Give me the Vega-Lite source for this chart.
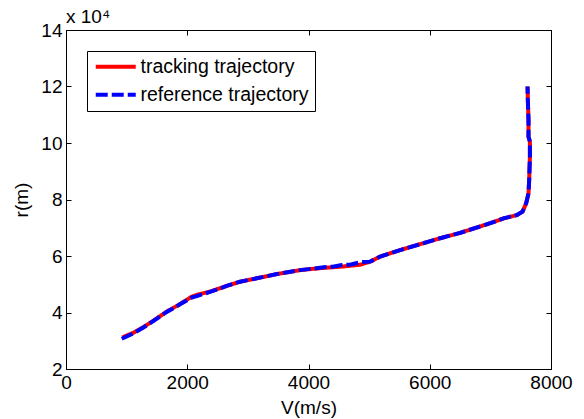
{
  "$schema": "https://vega.github.io/schema/vega-lite/v6.json",
  "autosize": {"type": "none"},
  "padding": {"left": 66, "top": 30, "right": 33, "bottom": 50},
  "width": 485,
  "height": 339,
  "background": "white",
  "config": {
    "font": "Liberation Sans",
    "view": {"stroke": "black", "strokeWidth": 1},
    "axis": {"grid": false, "domainColor": "black", "tickColor": "black", "labelColor": "black", "titleColor": "black", "labelFontSize": 19, "titleFontSize": 19, "titleFontWeight": "normal", "labelFont": "Liberation Sans", "titleFont": "Liberation Sans", "tickSize": -5, "labelPadding": 9, "labelFlush": false, "format": "d"}
  },
  "data": {"values": [
    {"i": 1, "V": 930, "r": 31200, "series": "tracking trajectory"},
    {"i": 2, "V": 1100, "r": 32700, "series": "tracking trajectory"},
    {"i": 3, "V": 1276, "r": 34800, "series": "tracking trajectory"},
    {"i": 4, "V": 1441, "r": 37100, "series": "tracking trajectory"},
    {"i": 5, "V": 1661, "r": 40300, "series": "tracking trajectory"},
    {"i": 6, "V": 1881, "r": 43000, "series": "tracking trajectory"},
    {"i": 7, "V": 2074, "r": 45600, "series": "tracking trajectory"},
    {"i": 8, "V": 2183, "r": 46400, "series": "tracking trajectory"},
    {"i": 9, "V": 2376, "r": 47400, "series": "tracking trajectory"},
    {"i": 10, "V": 2651, "r": 49400, "series": "tracking trajectory"},
    {"i": 11, "V": 2871, "r": 50900, "series": "tracking trajectory"},
    {"i": 12, "V": 3147, "r": 52100, "series": "tracking trajectory"},
    {"i": 13, "V": 3477, "r": 53600, "series": "tracking trajectory"},
    {"i": 14, "V": 3861, "r": 55000, "series": "tracking trajectory"},
    {"i": 15, "V": 4191, "r": 55700, "series": "tracking trajectory"},
    {"i": 16, "V": 4521, "r": 56200, "series": "tracking trajectory"},
    {"i": 17, "V": 4851, "r": 56900, "series": "tracking trajectory"},
    {"i": 18, "V": 5017, "r": 58000, "series": "tracking trajectory"},
    {"i": 19, "V": 5182, "r": 59800, "series": "tracking trajectory"},
    {"i": 20, "V": 5512, "r": 62100, "series": "tracking trajectory"},
    {"i": 21, "V": 5842, "r": 64200, "series": "tracking trajectory"},
    {"i": 22, "V": 6172, "r": 66300, "series": "tracking trajectory"},
    {"i": 23, "V": 6502, "r": 68200, "series": "tracking trajectory"},
    {"i": 24, "V": 6997, "r": 71600, "series": "tracking trajectory"},
    {"i": 25, "V": 7217, "r": 73300, "series": "tracking trajectory"},
    {"i": 26, "V": 7437, "r": 74500, "series": "tracking trajectory"},
    {"i": 27, "V": 7530, "r": 75700, "series": "tracking trajectory"},
    {"i": 28, "V": 7591, "r": 78700, "series": "tracking trajectory"},
    {"i": 29, "V": 7629, "r": 82200, "series": "tracking trajectory"},
    {"i": 30, "V": 7640, "r": 86900, "series": "tracking trajectory"},
    {"i": 31, "V": 7652, "r": 95200, "series": "tracking trajectory"},
    {"i": 32, "V": 7652, "r": 100500, "series": "tracking trajectory"},
    {"i": 33, "V": 7629, "r": 102200, "series": "tracking trajectory"},
    {"i": 34, "V": 7629, "r": 108100, "series": "tracking trajectory"},
    {"i": 35, "V": 7618, "r": 115200, "series": "tracking trajectory"},
    {"i": 36, "V": 7613, "r": 120000, "series": "tracking trajectory"},
    {"i": 1, "V": 920, "r": 30700, "series": "reference trajectory"},
    {"i": 2, "V": 1100, "r": 32500, "series": "reference trajectory"},
    {"i": 3, "V": 1276, "r": 34700, "series": "reference trajectory"},
    {"i": 4, "V": 1441, "r": 37000, "series": "reference trajectory"},
    {"i": 5, "V": 1661, "r": 40200, "series": "reference trajectory"},
    {"i": 6, "V": 1881, "r": 42900, "series": "reference trajectory"},
    {"i": 7, "V": 2074, "r": 45300, "series": "reference trajectory"},
    {"i": 8, "V": 2183, "r": 46000, "series": "reference trajectory"},
    {"i": 9, "V": 2376, "r": 47300, "series": "reference trajectory"},
    {"i": 10, "V": 2651, "r": 49400, "series": "reference trajectory"},
    {"i": 11, "V": 2871, "r": 50900, "series": "reference trajectory"},
    {"i": 12, "V": 3147, "r": 52100, "series": "reference trajectory"},
    {"i": 13, "V": 3477, "r": 53600, "series": "reference trajectory"},
    {"i": 14, "V": 3861, "r": 55000, "series": "reference trajectory"},
    {"i": 15, "V": 4100, "r": 55600, "series": "reference trajectory"},
    {"i": 16, "V": 4250, "r": 56000, "series": "reference trajectory"},
    {"i": 17, "V": 4400, "r": 56200, "series": "reference trajectory"},
    {"i": 18, "V": 4550, "r": 56800, "series": "reference trajectory"},
    {"i": 19, "V": 4700, "r": 57000, "series": "reference trajectory"},
    {"i": 20, "V": 4851, "r": 57800, "series": "reference trajectory"},
    {"i": 21, "V": 5017, "r": 58000, "series": "reference trajectory"},
    {"i": 22, "V": 5182, "r": 59800, "series": "reference trajectory"},
    {"i": 23, "V": 5512, "r": 62100, "series": "reference trajectory"},
    {"i": 24, "V": 5842, "r": 64200, "series": "reference trajectory"},
    {"i": 25, "V": 6172, "r": 66300, "series": "reference trajectory"},
    {"i": 26, "V": 6502, "r": 68200, "series": "reference trajectory"},
    {"i": 27, "V": 6997, "r": 71600, "series": "reference trajectory"},
    {"i": 28, "V": 7217, "r": 73300, "series": "reference trajectory"},
    {"i": 29, "V": 7437, "r": 74500, "series": "reference trajectory"},
    {"i": 30, "V": 7530, "r": 75700, "series": "reference trajectory"},
    {"i": 31, "V": 7591, "r": 78700, "series": "reference trajectory"},
    {"i": 32, "V": 7629, "r": 82200, "series": "reference trajectory"},
    {"i": 33, "V": 7640, "r": 86900, "series": "reference trajectory"},
    {"i": 34, "V": 7652, "r": 95200, "series": "reference trajectory"},
    {"i": 35, "V": 7652, "r": 100500, "series": "reference trajectory"},
    {"i": 36, "V": 7629, "r": 102200, "series": "reference trajectory"},
    {"i": 37, "V": 7629, "r": 108100, "series": "reference trajectory"},
    {"i": 38, "V": 7618, "r": 115200, "series": "reference trajectory"},
    {"i": 39, "V": 7613, "r": 120000, "series": "reference trajectory"}
  ]},
  "layer": [
    {
      "mark": {"type": "line", "strokeWidth": 4, "clip": true},
      "encoding": {
        "x": {"field": "V", "type": "quantitative", "scale": {"domain": [0, 8000], "nice": false, "zero": false},
          "axis": {"orient": "bottom", "values": [0, 2000, 4000, 6000, 8000], "title": "V(m/s)", "titlePadding": 6}},
        "y": {"field": "r", "type": "quantitative", "scale": {"domain": [20000, 140000], "nice": false, "zero": false},
          "axis": {"orient": "left", "values": [20000, 40000, 60000, 80000, 100000, 120000, 140000], "labelExpr": "datum.value / 10000", "title": "r(m)", "titlePadding": 9}},
        "color": {"field": "series", "type": "nominal",
          "scale": {"domain": ["tracking trajectory", "reference trajectory"], "range": ["#ff0000", "#0000ff"]},
          "legend": {"title": null, "orient": "top-left", "offset": 21, "strokeColor": "black", "fillColor": "white", "padding": 6, "labelFontSize": 19.5, "labelFont": "Liberation Sans", "labelColor": "black", "symbolType": "M-1.4,0H6.6", "symbolSize": 100, "symbolStrokeWidth": 4, "labelOffset": 28, "rowPadding": 7, "labelLimit": 400}},
        "strokeDash": {"field": "series", "type": "nominal",
          "scale": {"domain": ["tracking trajectory", "reference trajectory"], "range": [[1, 0], [12, 4]]},
          "legend": {"title": null, "orient": "top-left", "offset": 21, "strokeColor": "black", "fillColor": "white", "padding": 6, "labelFontSize": 19.5, "labelFont": "Liberation Sans", "labelColor": "black", "symbolType": "M-1.4,0H6.6", "symbolSize": 100, "symbolStrokeWidth": 4, "labelOffset": 28, "rowPadding": 7, "labelLimit": 400}},
        "order": {"field": "i", "type": "quantitative"}
      }
    },
    {
      "mark": {"type": "point", "opacity": 0},
      "encoding": {
        "x": {"field": "V", "type": "quantitative", "axis": {"orient": "top", "values": [0, 2000, 4000, 6000, 8000], "labels": false, "title": null}},
        "y": {"field": "r", "type": "quantitative", "axis": {"orient": "right", "values": [20000, 40000, 60000, 80000, 100000, 120000, 140000], "labels": false, "title": null}}
      }
    },
    {
      "data": {"values": [{"V": 0, "r": 140000, "label": "x 10⁴"}]},
      "mark": {"type": "text", "align": "left", "baseline": "alphabetic", "dy": -7, "fontSize": 19, "font": "Liberation Sans", "color": "black", "clip": false},
      "encoding": {
        "x": {"field": "V", "type": "quantitative", "axis": null},
        "y": {"field": "r", "type": "quantitative", "axis": null},
        "text": {"field": "label"}
      }
    }
  ],
  "resolve": {"axis": {"x": "independent", "y": "independent"}}
}
